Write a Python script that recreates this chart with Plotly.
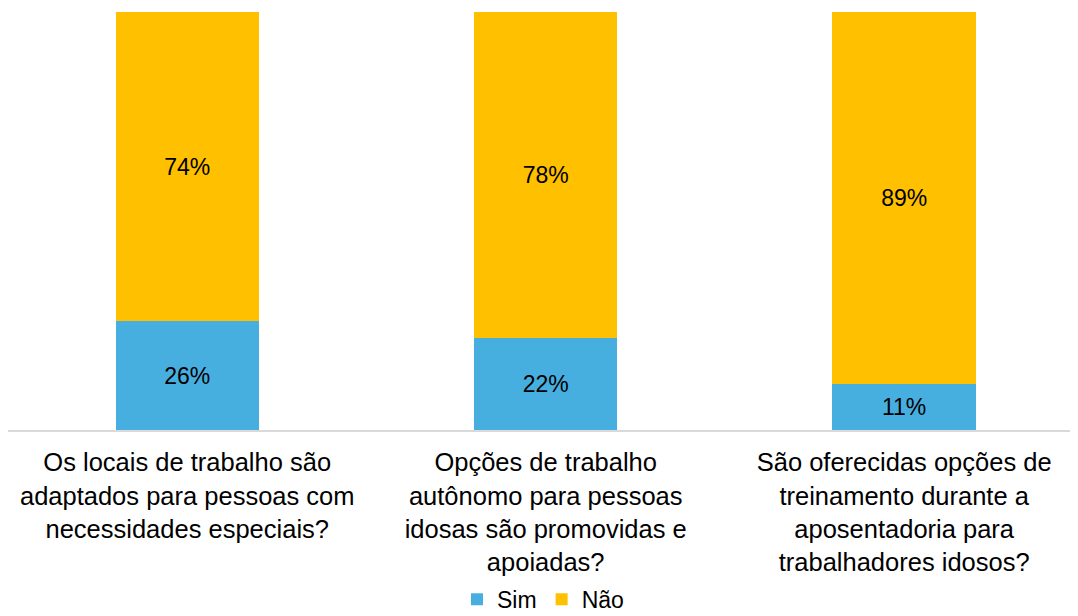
import plotly.graph_objects as go

categories = [
    "Os locais de trabalho são<br>adaptados para pessoas com<br>necessidades especiais?",
    "Opções de trabalho<br>autônomo para pessoas<br>idosas são promovidas e<br>apoiadas?",
    "São oferecidas opções de<br>treinamento durante a<br>aposentadoria para<br>trabalhadores idosos?",
]
sim = [26, 22, 11]
nao = [74, 78, 89]

fig = go.Figure()
fig.add_trace(go.Bar(
    x=categories, y=sim, name="Sim",
    marker=dict(color="#47AFE0", line=dict(width=0)),
    text=[f"{v}%" for v in sim], textposition="inside",
    insidetextanchor="middle",
    textfont=dict(size=23, color="black"),
))
fig.add_trace(go.Bar(
    x=categories, y=nao, name="Não",
    marker=dict(color="#FFC000", line=dict(width=0)),
    text=[f"{v}%" for v in nao], textposition="inside",
    insidetextanchor="middle",
    textfont=dict(size=23, color="black"),
))

# page body has an 8px margin, so the figure is sized to fit the window
fig.update_layout(
    barmode="stack",
    bargap=0.6,
    width=1070, height=608,
    margin=dict(l=0, r=0, t=4, b=186, autoexpand=False),
    paper_bgcolor="white", plot_bgcolor="white",
    font=dict(family="Liberation Sans, Arial, sans-serif", size=23, color="black"),
    uniformtext=dict(minsize=23, mode="show"),
    xaxis=dict(
        showline=True, linecolor="#D9D9D9", linewidth=1.5,
        tickfont=dict(size=25.5), ticks="", ticklabelstandoff=9,
        range=[-0.5, 2.485],
    ),
    yaxis=dict(range=[0, 100], visible=False),
    legend=dict(
        orientation="h", x=0.5, xanchor="center", y=-0.405, yanchor="middle",
        font=dict(size=23), traceorder="normal",
    ),
    showlegend=True,
)

fig.write_html("out.html")
